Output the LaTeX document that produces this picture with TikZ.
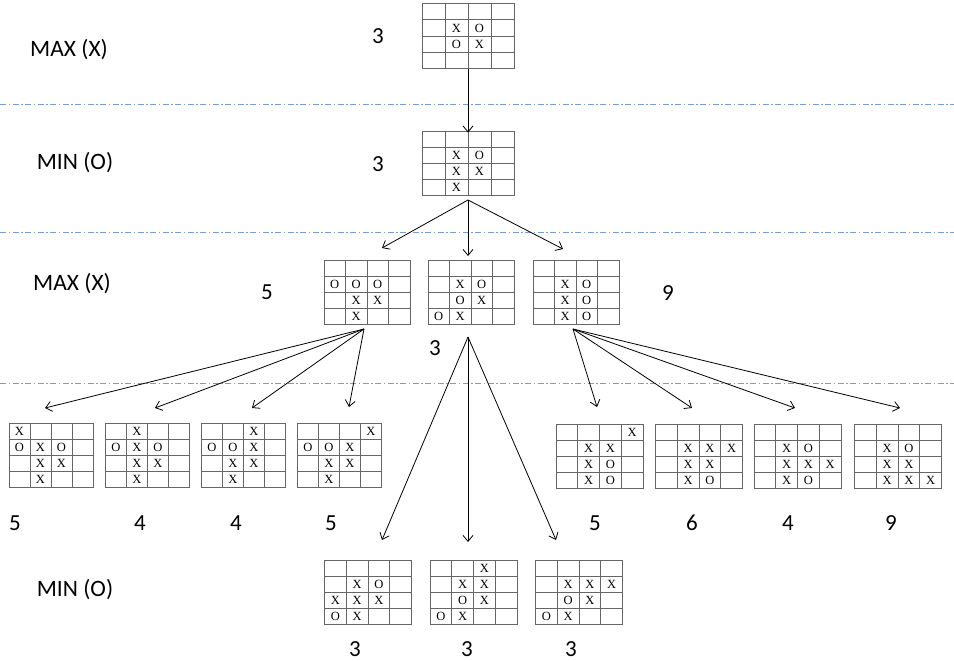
\documentclass[tikz,border=0pt]{standalone}
\usepackage{fontspec}
\setmainfont{Carlito}
\newfontfamily\boardfont{Liberation Serif}
\usetikzlibrary{arrows.meta}

\definecolor{sepblue}{RGB}{122,156,212}

\tikzset{
  board/.style={draw=black!60, line width=0.9pt, inner sep=0pt, fill=white},
  gridline/.style={draw=black!60, line width=0.9pt},
  cellmark/.style={inner sep=0pt, font=\boardfont\fontsize{12.5}{12.5}\selectfont},
  levellabel/.style={inner sep=0pt, font=\fontsize{23.5}{25}\selectfont},
  score/.style={inner sep=0pt, font=\fontsize{23}{25}\selectfont},
  sep/.style={draw=sepblue, line width=0.9pt,
              dash pattern=on 6pt off 2.5pt on 1.5pt off 2.5pt},
  move/.style={draw=black, line width=0.8pt,
               -{Straight Barb[length=6pt,width=10pt,line width=0.8pt]}}
}

% a 4x4 board: name, centre x, centre y, width, height, list of col/row/symbol
\newcommand\tttboard[6]{%
  \node[board, minimum width=#4pt, minimum height=#5pt] (#1) at (#2,#3) {};
  \foreach \k in {1,2,3} {
    \draw[gridline] ({#2-#4/2+\k*#4/4},{#3-#5/2}) -- ({#2-#4/2+\k*#4/4},{#3+#5/2});
    \draw[gridline] ({#2-#4/2},{#3-#5/2+\k*#5/4}) -- ({#2+#4/2},{#3-#5/2+\k*#5/4});
  }
  \foreach \c/\r/\s in {#6} {
    \node[cellmark] (#1-\c-\r) at ({#2+(\c-2.5)*#4/4},{#3+(\r-2.5)*#5/4+0.5}) {\s};
  }
}

\begin{document}
\begin{tikzpicture}[x=1pt,y=-1pt]
  \useasboundingbox (0,0) rectangle (954,661);

  % level separators
  \foreach \yy in {104,232,383} \draw[sep] (0,\yy) -- (954,\yy);

  % level names
  \node[levellabel] (lv1) at (69,50)  {MAX (X)};
  \node[levellabel] (lv2) at (75,163) {MIN (O)};
  \node[levellabel] (lv3) at (72,284) {MAX (X)};
  \node[levellabel] (lv5) at (75,590) {MIN (O)};

  % root and its single reply
  \tttboard{T}{468}{36}{92}{65}{2/2/X,3/2/O,2/3/O,3/3/X}
  \tttboard{S}{468}{163}{92}{64}{2/2/X,3/2/O,2/3/X,3/3/X,2/4/X}

  % third level
  \tttboard{A}{367}{292}{86}{64}{1/2/O,2/2/O,3/2/O,2/3/X,3/3/X,2/4/X}
  \tttboard{B}{471}{292}{86}{64}{2/2/X,3/2/O,2/3/O,3/3/X,1/4/O,2/4/X}
  \tttboard{C}{576}{292}{86}{64}{2/2/X,3/2/O,2/3/X,3/3/O,2/4/X,3/4/O}

  % fourth level, left group
  \tttboard{L1}{51}{455}{84}{64}{1/1/X,1/2/O,2/2/X,3/2/O,2/3/X,3/3/X,2/4/X}
  \tttboard{L2}{147.5}{455}{84}{64}{2/1/X,1/2/O,2/2/X,3/2/O,2/3/X,3/3/X,2/4/X}
  \tttboard{L3}{243.5}{455}{84}{64}{3/1/X,1/2/O,2/2/O,3/2/X,2/3/X,3/3/X,2/4/X}
  \tttboard{L4}{339.5}{455}{84}{64}{4/1/X,1/2/O,2/2/O,3/2/X,2/3/X,3/3/X,2/4/X}

  % fourth level, right group
  \tttboard{R1}{599.5}{456}{87}{64}{4/1/X,2/2/X,3/2/X,2/3/X,3/3/O,2/4/X,3/4/O}
  \tttboard{R2}{699}{456}{87}{64}{2/2/X,3/2/X,4/2/X,2/3/X,3/3/X,2/4/X,3/4/O}
  \tttboard{R3}{797.5}{456}{87}{64}{2/2/X,3/2/O,2/3/X,3/3/X,4/3/X,2/4/X,3/4/O}
  \tttboard{R4}{898}{456}{87}{64}{2/2/X,3/2/O,2/3/X,3/3/X,2/4/X,3/4/X,4/4/X}

  % fifth level
  \tttboard{M1}{368}{592}{87}{64}{2/2/X,3/2/O,1/3/X,2/3/X,3/3/X,1/4/O,2/4/X}
  \tttboard{M2}{473.5}{592}{87}{64}{3/1/X,2/2/X,3/2/X,2/3/O,3/3/X,1/4/O,2/4/X}
  \tttboard{M3}{579}{592}{87}{64}{2/2/X,3/2/X,4/2/X,2/3/O,3/3/X,1/4/O,2/4/X}

  % minimax values
  \node[score] (vT) at (378,36) {3};
  \node[score] (vS) at (378,164) {3};
  \node[score] (vA) at (267,292) {5};
  \node[score] (vB) at (435,348) {3};
  \node[score] (vC) at (668,293) {9};
  \node[score] (vL1) at (15,523) {5};
  \node[score] (vL2) at (140,523) {4};
  \node[score] (vL3) at (236,523) {4};
  \node[score] (vL4) at (331,523) {5};
  \node[score] (vR1) at (595,523) {5};
  \node[score] (vR2) at (692,523) {6};
  \node[score] (vR3) at (788,523) {4};
  \node[score] (vR4) at (891,523) {9};
  \node[score] (vM1) at (355,649) {3};
  \node[score] (vM2) at (467,649) {3};
  \node[score] (vM3) at (571,649) {3};

  % where the moves leave a board
  \coordinate (S-out) at (468,200);
  \coordinate (A-out) at (364,329);
  \coordinate (B-out) at (468,337);
  \coordinate (C-out) at (573,329);

  % where the moves arrive
  \coordinate (A-in) at (382,248);
  \coordinate (B-in) at (468,256);
  \coordinate (C-in) at (563,249);
  \coordinate (L1-in) at (45,408);
  \coordinate (L2-in) at (155,408);
  \coordinate (L3-in) at (252,408);
  \coordinate (L4-in) at (349,407);
  \coordinate (R1-in) at (597,407);
  \coordinate (R2-in) at (692,408);
  \coordinate (R3-in) at (795,408);
  \coordinate (R4-in) at (900,408);
  \coordinate (M1-in) at (382,540);
  \coordinate (M2-in) at (468,542);
  \coordinate (M3-in) at (556,540);

  % moves
  \draw[move] (T.south) -- ([yshift=-2pt]S.north);
  \foreach \t in {A,B,C} \draw[move] (S-out) -- (\t-in);
  \foreach \t in {L1,L2,L3,L4} \draw[move] (A-out) -- (\t-in);
  \foreach \t in {M1,M2,M3} \draw[move] (B-out) -- (\t-in);
  \foreach \t in {R1,R2,R3,R4} \draw[move] (C-out) -- (\t-in);
\end{tikzpicture}
\end{document}
